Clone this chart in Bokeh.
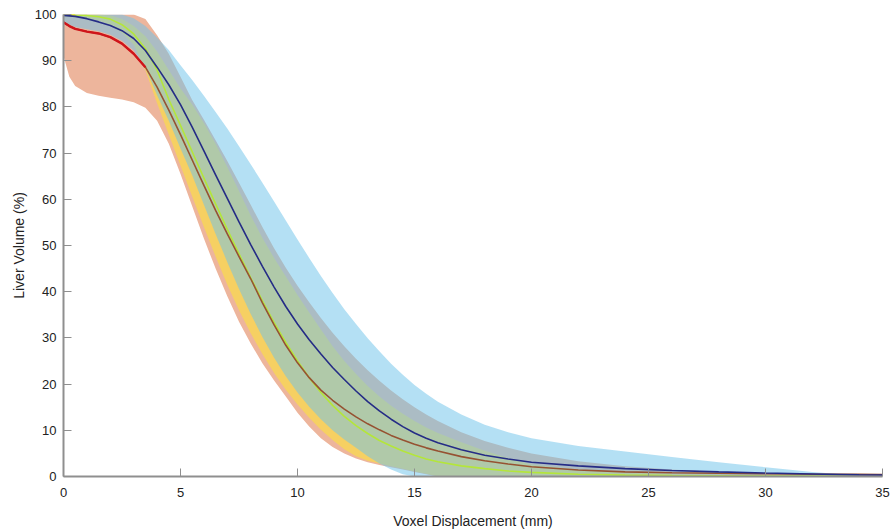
import numpy as np
from bokeh.plotting import figure
from bokeh.models import Range1d, FixedTicker
from bokeh.embed import file_html
from bokeh.resources import INLINE

# ---- data ----
x_disp = [0, 0.25, 0.5, 1, 1.5, 2, 2.5, 3, 3.5, 4, 4.5, 5, 5.5, 6, 6.5, 7, 7.5, 8, 8.5, 9, 9.5,
          10, 10.5, 11, 11.5, 12, 12.5, 13, 13.5, 14, 14.5, 15, 15.5, 16, 17, 18, 19, 20,
          22, 24, 26, 28, 30, 32, 34, 35]

# mean curves
navy_mean = [99.8, 99.7, 99.6, 99.1, 98.4, 97.6, 96.5, 94.8, 92.2, 88.6, 84.8, 80.5, 75.6, 70.5, 65.3,
             60.2, 55.1, 50.2, 45.5, 41.0, 36.8, 33.0, 29.6, 26.5, 23.6, 21.0, 18.5, 16.2, 14.2, 12.4,
             10.8, 9.4, 8.3, 7.3, 5.8, 4.6, 3.8, 3.1, 2.3, 1.7, 1.3, 1.0, 0.75, 0.55, 0.35, 0.3]
red_mean = [98.3, 97.5, 96.9, 96.3, 95.9, 95.1, 93.7, 91.5, 88.6, 84.3, 79.3, 74.0, 68.5, 63.0, 57.6,
            52.5, 47.6, 42.8, 37.6, 32.8, 28.4, 24.6, 21.4, 18.7, 16.5, 14.6, 12.9, 11.4, 10.1, 8.9,
            7.9, 7.0, 6.2, 5.5, 4.3, 3.4, 2.7, 2.1, 1.4, 1.0, 0.8, 0.7, 0.6, 0.5, 0.45, 0.4]
yellow_mean = [100, 100, 99.9, 99.8, 99.5, 99.0, 97.8, 95.8, 92.6, 88.0, 81.6, 76.0, 70.3, 64.6, 59.0,
               53.5, 48.2, 43.0, 38.0, 33.3, 29.0, 25.0, 21.4, 18.2, 15.4, 13.0, 11.0, 9.3, 7.8, 6.6,
               5.5, 4.6, 3.8, 3.2, 2.3, 1.7, 1.2, 0.9, 0.5, 0.3, 0.2, 0.15, 0.1, 0.1, 0.05, 0.0]

# salmon band (red group)
salmon_low = [91.0, 86.5, 84.5, 83.0, 82.4, 82.0, 81.6, 81.0, 79.8, 77.0, 72.0, 65.5, 58.5, 51.5, 45.0,
              39.0, 33.5, 28.8, 24.5, 20.8, 17.3, 13.8, 10.8, 8.3, 6.4, 5.0, 3.9, 3.1, 2.5, 2.0,
              1.5, 1.0, 0.5, 0, 0, 0, 0, 0, 0, 0, 0, 0, 0, 0, 0, 0]
salmon_high = [100, 100, 100, 100, 100, 100, 100, 100, 99.0, 95.5, 91.5, 86.5, 81.5, 77.2, 72.8,
               68.3, 63.6, 58.8, 54.0, 49.4, 45.2, 41.3, 37.7, 34.3, 31.1, 28.2, 25.5, 23.0, 20.7, 18.6,
               16.7, 15.0, 13.4, 12.0, 9.6, 7.7, 6.2, 5.0, 3.3, 2.2, 1.5, 1.0, 0.6, 0.3, 0.1, 0]

# yellow band (yellow group)
yellow_low = [99.5, 99.45, 99.4, 99.2, 98.7, 97.8, 96.0, 93.5, 88.0, 80.8, 74.0, 67.3, 60.6, 54.0, 47.6,
              41.5, 36.0, 31.0, 26.5, 22.4, 18.8, 15.6, 12.7, 10.1, 7.9, 5.9, 4.4, 3.4, 2.8, 2.2,
              1.7, 1.1, 0.6, 0, 0, 0, 0, 0, 0, 0, 0, 0, 0, 0, 0, 0]
yellow_high = [100, 100, 100, 100, 100, 99.8, 99.0, 97.5, 95.3, 92.0, 88.0, 84.0, 80.5, 76.5, 72.0,
               67.0, 61.8, 56.5, 51.6, 47.3, 43.3, 39.3, 35.5, 31.8, 28.2, 25.0, 22.2, 19.6, 17.3, 15.3,
               13.6, 12.0, 10.6, 9.4, 7.4, 5.6, 4.0, 2.6, 1.5, 0.9, 0.6, 0.4, 0.3, 0.2, 0.1, 0]

# blue band (navy group)
blue_low = [98.5, 97.8, 97.3, 96.8, 96.4, 95.6, 94.3, 92.2, 88.5, 82.5, 77.0, 71.0, 65.2, 58.8, 52.5,
            46.4, 40.6, 35.2, 30.2, 25.7, 21.7, 18.2, 15.1, 12.4, 10.0, 8.0, 6.2, 4.4, 2.8, 1.5,
            0.5, 0, 0, 0, 0, 0, 0, 0, 0, 0, 0, 0, 0, 0, 0, 0]
blue_high = [100, 100, 100, 100, 100, 100, 100, 99.2, 97.5, 95.0, 92.3, 89.0, 85.8, 82.4, 78.9,
             75.3, 71.5, 67.6, 63.6, 59.5, 55.4, 51.3, 47.3, 43.4, 39.7, 36.2, 33.0, 29.9, 27.1, 24.4,
             22.0, 19.8, 17.9, 16.2, 13.4, 11.2, 9.6, 8.3, 6.6, 5.4, 4.2, 3.1, 2.0, 1.0, 0.2, 0]

x_ticks = [0, 5, 10, 15, 20, 25, 30, 35]
y_ticks = [0, 10, 20, 30, 40, 50, 60, 70, 80, 90, 100]

# ---- figure ----
p = figure(width=890, height=532, x_range=Range1d(0, 35), y_range=Range1d(0, 100),
           output_backend="svg", toolbar_location=None,
           min_border_left=63, min_border_right=8, min_border_top=14, min_border_bottom=56)
p.grid.visible = False
p.outline_line_color = None
p.background_fill_color = "white"

# bands
p.varea(x=x_disp, y1=salmon_low, y2=salmon_high, fill_color="#EDB59C", fill_alpha=1.0)
p.varea(x=x_disp, y1=yellow_low, y2=yellow_high, fill_color="#FADB4A", fill_alpha=0.7)
p.varea(x=x_disp, y1=blue_low, y2=blue_high, fill_color="#6FC3EA", fill_alpha=0.52)

xa = np.array(x_disp, dtype=float)
ym = np.array(yellow_mean, dtype=float)
rm = np.array(red_mean, dtype=float)


def masked(values, mask):
    m = mask.copy()
    m[1:] |= mask[:-1]
    return np.where(m, values, np.nan)


# yellow mean line: lime inside blue band, bright yellow outside
p.line(xa, ym, line_color="#B4E63A", line_width=1.6)
p.line(xa, masked(ym, ym >= np.array(blue_high)), line_color="#F2EC10", line_width=2.2)

# red mean line: brown inside the bands, bright red outside the yellow band
p.line(xa, rm, line_color="#965232", line_width=1.6)
p.line(xa, masked(rm, rm < np.array(yellow_low)), line_color="#D0141A", line_width=2.4)

# navy mean line
p.line(x_disp, navy_mean, line_color="#252C86", line_width=1.6)

# axes
for ax in (p.xaxis[0], p.yaxis[0]):
    ax.axis_line_color = "#8f8f8f"
    ax.axis_line_width = 2
    ax.major_tick_line_color = "#8f8f8f"
    ax.major_tick_line_width = 1
    ax.major_tick_in = 8
    ax.major_tick_out = 0
    ax.minor_tick_line_color = None
    ax.major_label_text_font = "Liberation Sans"
    ax.major_label_text_font_size = "13px"
    ax.major_label_text_color = "#222222"
    ax.axis_label_text_font = "Liberation Sans"
    ax.axis_label_text_font_size = "14px"
    ax.axis_label_text_font_style = "normal"
    ax.axis_label_text_color = "#222222"

p.xaxis.ticker = FixedTicker(ticks=x_ticks)
p.yaxis.ticker = FixedTicker(ticks=y_ticks)
p.xaxis.axis_label = "Voxel Displacement (mm)"
p.yaxis.axis_label = "Liver Volume (%)"
p.xaxis.major_label_standoff = 11
p.xaxis.axis_label_standoff = 13
p.yaxis.major_label_standoff = 7
p.yaxis.axis_label_standoff = 5

open("out.html", "w").write(file_html(p, INLINE))
